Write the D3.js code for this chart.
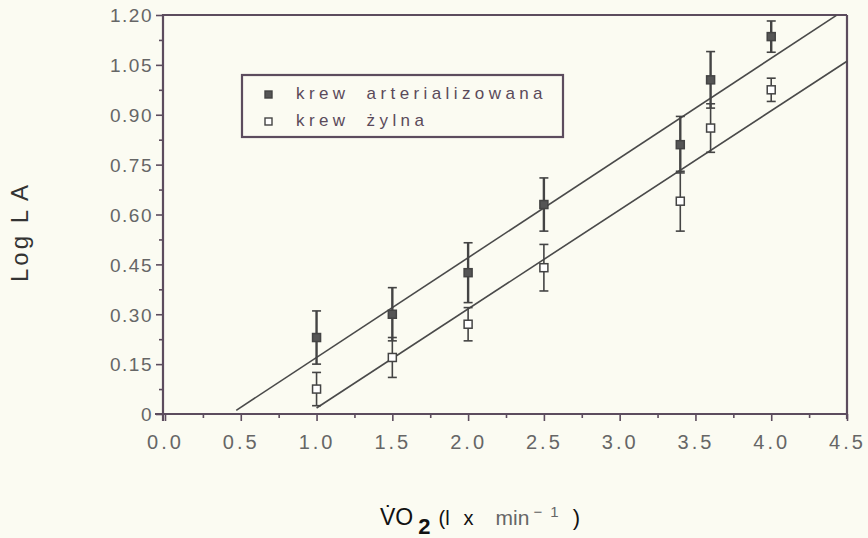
<!DOCTYPE html>
<html>
<head>
<meta charset="utf-8">
<script src="https://cdn.jsdelivr.net/npm/d3@7"></script>
<style>
  body { margin: 0; background: #fbfbf2; }
  svg { display: block; }
</style>
</head>
<body>
<svg class="chart" width="868" height="538"></svg>
<script>
// data
var vo2 = [1.0, 1.5, 2.0, 2.5, 3.4, 3.6, 4.0];
var artMean = [0.23, 0.30, 0.425, 0.63, 0.81, 1.005, 1.135];
var artSD   = [0.08, 0.08, 0.09, 0.08, 0.085, 0.085, 0.047];
var venMean = [0.075, 0.17, 0.27, 0.44, 0.64, 0.86, 0.975];
var venSD   = [0.05, 0.06, 0.05, 0.07, 0.09, 0.073, 0.035];
// regression lines: [slope, intercept], x range
var artFit = [0.30, -0.13], artFitX = [0.47, 4.43];
var venFit = [0.298, -0.28], venFitX = [1.0, 4.5];
var xTicks = [0, 0.5, 1, 1.5, 2, 2.5, 3, 3.5, 4, 4.5];
var xMinor = [0.25, 0.75, 1.25, 1.75, 2.25, 2.75, 3.25, 3.75, 4.25];
var yTicks = [0, 0.15, 0.30, 0.45, 0.60, 0.75, 0.90, 1.05, 1.20];
var yMinor = [0.075, 0.225, 0.375, 0.525, 0.675, 0.825, 0.975, 1.125];
var legendLabels = ["krew arterializowana", "krew żylna"];

var axisCol = "#5c4c5e",
    markCol = "#444",
    labCol = "#666",
    font = "Liberation Sans, Arial, sans-serif";

var svg = d3.select("svg.chart");
var x = d3.scaleLinear().domain([0, 4.5]).range([165, 847]);
var y = d3.scaleLinear().domain([0, 1.2]).range([414, 15]);

// axes
var xAxis = svg.append("g").attr("transform", "translate(0,414)")
    .call(d3.axisBottom(x).tickValues(xTicks).tickSize(7).tickPadding(14)
      .tickFormat(d3.format(".1f")));
svg.append("g").attr("transform", "translate(0,414)")
    .call(d3.axisBottom(x).tickValues(xMinor).tickSize(4).tickFormat(""));
var yAxis = svg.append("g").attr("transform", "translate(163,0)")
    .call(d3.axisLeft(y).tickValues(yTicks).tickSize(7).tickPadding(3)
      .tickFormat(function(d) { return d === 0 ? "0" : d3.format(".2f")(d); }));
svg.append("g").attr("transform", "translate(163,0)")
    .call(d3.axisLeft(y).tickValues(yMinor).tickSize(4).tickFormat(""));

svg.selectAll(".domain").remove();
svg.selectAll(".tick line").attr("stroke", axisCol).attr("stroke-width", 1.6);
xAxis.selectAll("text").attr("font-size", 20).attr("letter-spacing", 3)
    .attr("fill", labCol).attr("font-family", font);
yAxis.selectAll("text").attr("font-size", 19).attr("letter-spacing", 1.5)
    .attr("fill", labCol).attr("font-family", font).attr("dy", "0.36em");

// frame
var frame = svg.append("g").attr("stroke", axisCol).attr("stroke-width", 2.2).attr("fill", "none");
frame.append("line").attr("x1", 155).attr("x2", x(4.5)).attr("y1", y(0)).attr("y2", y(0));
frame.append("line").attr("x1", 163).attr("x2", 163).attr("y1", y(1.2) - 1).attr("y2", y(0) + 7);
frame.append("line").attr("x1", 163).attr("x2", x(4.5)).attr("y1", y(1.2)).attr("y2", y(1.2));
frame.append("line").attr("x1", x(4.5)).attr("x2", x(4.5)).attr("y1", y(1.2)).attr("y2", y(0) + 5);

// regression lines
var fits = [[artFit, artFitX], [venFit, venFitX]];
svg.append("g").selectAll("line").data(fits).join("line")
    .attr("x1", function(d) { return x(d[1][0]); })
    .attr("y1", function(d) { return y(d[0][0] * d[1][0] + d[0][1]); })
    .attr("x2", function(d) { return x(d[1][1]); })
    .attr("y2", function(d) { return y(d[0][0] * d[1][1] + d[0][1]); })
    .attr("stroke", "#4a4a4a").attr("stroke-width", 1.6);

// error bars + markers
function series(mean, sd, filled) {
  var pts = vo2.map(function(v, i) { return {x: v, m: mean[i], s: sd[i]}; });
  var g = svg.append("g");
  var eb = g.selectAll("g.eb").data(pts).join("g").attr("stroke", markCol).attr("stroke-width", 1.6);
  eb.append("line")
      .attr("x1", function(d) { return x(d.x); }).attr("x2", function(d) { return x(d.x); })
      .attr("y1", function(d) { return y(d.m - d.s); }).attr("y2", function(d) { return y(d.m + d.s); })
      .attr("stroke-width", filled ? 2.4 : 1.6);
  [-1, 1].forEach(function(k) {
    eb.append("line")
        .attr("x1", function(d) { return x(d.x) - 4.5; }).attr("x2", function(d) { return x(d.x) + 4.5; })
        .attr("y1", function(d) { return y(d.m + k * d.s); }).attr("y2", function(d) { return y(d.m + k * d.s); });
  });
  g.selectAll("rect").data(pts).join("rect")
      .attr("x", function(d) { return x(d.x) - 4; }).attr("y", function(d) { return y(d.m) - 4; })
      .attr("width", 8).attr("height", 8)
      .attr("fill", filled ? "#555" : "#fff").attr("stroke", markCol).attr("stroke-width", 1.5);
}
series(venMean, venSD, false);
series(artMean, artSD, true);

// legend
var lg = svg.append("g");
lg.append("rect").attr("x", 242).attr("y", 75).attr("width", 321).attr("height", 62)
    .attr("fill", "none").attr("stroke", axisCol).attr("stroke-width", 2.2);
legendLabels.forEach(function(t, i) {
  var yy = 99 + i * 27;
  lg.append("rect").attr("x", 265).attr("y", yy - 8).attr("width", 7).attr("height", 7)
      .attr("fill", i === 0 ? "#555" : "#fff").attr("stroke", markCol).attr("stroke-width", 1.4);
  lg.append("text").attr("x", 296).attr("y", yy).text(t)
      .attr("font-family", font).attr("font-size", 17).attr("letter-spacing", 4.4)
      .attr("word-spacing", 8).attr("fill", "#5a4a5a");
});

// axis titles
var yt = svg.append("text").attr("transform", "translate(28,282) rotate(-90)")
    .attr("font-family", font).attr("font-size", 24).attr("letter-spacing", 3)
    .attr("fill", "#333");
yt.append("tspan").text("Log L");
yt.append("tspan").attr("dx", 6).text("A");

var xt = svg.append("text").attr("x", 380).attr("y", 525)
    .attr("font-family", font).attr("font-size", 23).attr("fill", "#111");
xt.append("tspan").text("V\u0307O");
xt.append("tspan").attr("dx", 5).attr("dy", 9).attr("font-weight", "bold").attr("font-size", 22).text("2");
xt.append("tspan").attr("dx", 8).attr("dy", -9).attr("font-size", 20).text("(l");
xt.append("tspan").attr("dx", 14).attr("font-size", 20).text("x");
xt.append("tspan").attr("dx", 22).attr("font-size", 21).attr("fill", "#666").text("min");
xt.append("tspan").attr("dx", 4).attr("dy", -8).attr("font-size", 15).attr("fill", "#666")
    .attr("letter-spacing", 2).text("\u2212 1");
xt.append("tspan").attr("dx", 12).attr("dy", 8).attr("font-size", 22).text(")");
</script>
</body>
</html>
